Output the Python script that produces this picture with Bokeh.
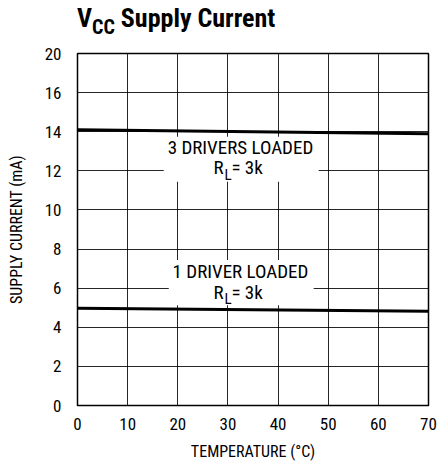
from bokeh.plotting import figure
from bokeh.models import Range1d, FixedTicker, Label, Div
from bokeh.layouts import column
from bokeh.embed import file_html
from bokeh.resources import INLINE

# Data
temp = [0, 35, 70]
i_3drivers = [14.1, 14.0, 13.9]
i_1driver = [4.97, 4.9, 4.82]
y_ticks = [0, 2, 4, 6, 8, 10, 12, 14, 16, 18]
y_tick_labels = ["0", "2", "4", "6", "8", "10", "12", "14", "16", "20"]
x_ticks = [0, 10, 20, 30, 40, 50, 60, 70]

FONT = "'Roboto Condensed', 'DejaVu Sans Condensed', Roboto"

title = Div(text="V<sub style='font-size:20px;vertical-align:-7px'>CC</sub> Supply Current",
            width=437, height=45, margin=0,
            styles={"font-family": FONT, "font-weight": "bold", "font-size": "26px",
                    "padding-left": "77px", "padding-top": "4px", "color": "black",
                    "line-height": "28px"})

p = figure(width=437, height=419, output_backend="svg", toolbar_location=None,
           x_range=Range1d(0, 70), y_range=Range1d(0, 18),
           min_border_left=77, min_border_right=9, min_border_top=8, min_border_bottom=59)
p.outline_line_color = "black"
p.outline_line_width = 1.5
p.background_fill_color = "white"
p.border_fill_color = "white"

p.xaxis.ticker = FixedTicker(ticks=x_ticks)
p.yaxis.ticker = FixedTicker(ticks=y_ticks)
p.yaxis.major_label_overrides = {t: l for t, l in zip(y_ticks, y_tick_labels)}
for ax in (p.xaxis, p.yaxis):
    ax.axis_line_color = None
    ax.major_tick_line_color = None
    ax.minor_tick_line_color = None
    ax.major_label_text_font = FONT
    ax.major_label_text_font_size = "17px"
    ax.major_label_text_color = "black"
    ax.axis_label_text_font = FONT
    ax.axis_label_text_font_size = "16px"
    ax.axis_label_text_font_style = "normal"
    ax.axis_label_text_color = "black"
p.xaxis.axis_label = "TEMPERATURE (°C)"
p.yaxis.axis_label = "SUPPLY CURRENT (mA)"
p.xaxis.major_label_standoff = 6
p.yaxis.major_label_standoff = 10
p.xaxis.axis_label_standoff = 9
p.yaxis.axis_label_standoff = 16

p.grid.grid_line_color = "black"
p.grid.grid_line_width = 1
p.grid.grid_line_alpha = 0.85

# white boxes behind labels
p.quad(left=[17.2, 18.2], right=[48.1, 47.1], top=[13.74, 7.44], bottom=[11.44, 5.13],
       fill_color="white", line_color=None)

p.line(temp, i_3drivers, line_color="black", line_width=3)
p.line(temp, i_1driver, line_color="black", line_width=3)

def lab(x, y, text, size, align="left", xo=0, yo=0, style="normal"):
    p.add_layout(Label(x=x, y=y, text=text, text_font=FONT, text_font_size=size,
                       text_align=align, text_baseline="alphabetic", x_offset=xo,
                       y_offset=yo + 7, text_color="black", text_font_style=style))

lab(32.5, 12.82, "3 DRIVERS LOADED", "19px", align="center")
lab(27.1, 11.79, "R", "19px")
lab(27.1, 11.79, "L", "15px", xo=11, yo=-7)
lab(27.1, 11.79, " = 3k", "19px", xo=18)

lab(32.5, 6.51, "1 DRIVER LOADED", "19px", align="center")
lab(27.1, 5.44, "R", "19px")
lab(27.1, 5.44, "L", "15px", xo=11, yo=-7)
lab(27.1, 5.44, " = 3k", "19px", xo=18)

open("out.html", "w").write(file_html(column(title, p, spacing=0), INLINE))
